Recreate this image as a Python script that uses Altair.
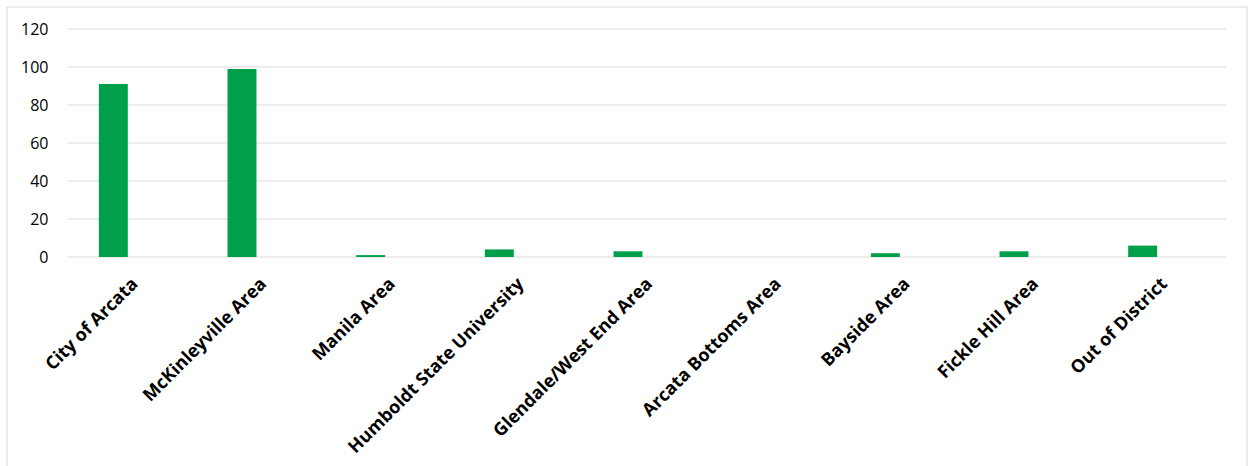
import altair as alt
import pandas as pd

categories = ["City of Arcata", "McKinleyville Area", "Manila Area", "Humboldt State University",
              "Glendale/West End Area", "Arcata Bottoms Area", "Bayside Area", "Fickle Hill Area",
              "Out of District"]
values = [91, 99, 1, 4, 3, 0, 2, 3, 6]
y_ticks = [0, 20, 40, 60, 80, 100, 120]

df = pd.DataFrame({"area": categories, "count": values})
grid_df = pd.DataFrame({"tick": y_ticks})

FONT = "Open Sans"
yscale = alt.Scale(domain=[0, 120], nice=False)
yaxis = alt.Axis(values=y_ticks, ticks=False, domain=False, grid=False,
                 labelFontSize=16, labelFont=FONT, labelOverlap=False,
                 labelColor="#000000", labelPadding=20)

frame = alt.Chart(pd.DataFrame({"k": [0]})).mark_rect(
    fill=None, stroke="#d9d9d9", strokeWidth=1
).encode(x=alt.value(-61), x2=alt.value(1179), y=alt.value(-22), y2=alt.value(440))

grid = alt.Chart(grid_df).mark_rule(color="#d9d9d9", strokeWidth=1.2).encode(
    y=alt.Y("tick:Q", scale=yscale, title=None, axis=yaxis),
    x=alt.value(0), x2=alt.value(1158),
)

bars = alt.Chart(df).mark_bar(color="#00a04a").encode(
    x=alt.X("area:N", sort=categories, title=None,
            scale=alt.Scale(range=[-19, 1139], paddingInner=0.775, paddingOuter=0.3875),
            axis=alt.Axis(labelAngle=-45, labelAlign="right", labelBaseline="middle",
                          labelFontWeight="bold", labelFontSize=18, labelFont=FONT,
                          labelColor="#000000", ticks=False, domain=False, labelOverlap=False,
                          labelPadding=24, labelOffset=22, labelLimit=0, grid=False)),
    y=alt.Y("count:Q", title=None, scale=yscale, axis=yaxis),
)

chart = alt.layer(grid, bars, frame).properties(
    width=1158, height=228,
    autosize=alt.AutoSizeParams(type="none"),
    padding={"left": 68, "top": 29, "right": 23, "bottom": 209},
    background="white",
).configure_view(stroke=None).configure_axis(labelOverlap=False)

chart.save("out.html", embed_options={"renderer": "svg", "actions": False})
